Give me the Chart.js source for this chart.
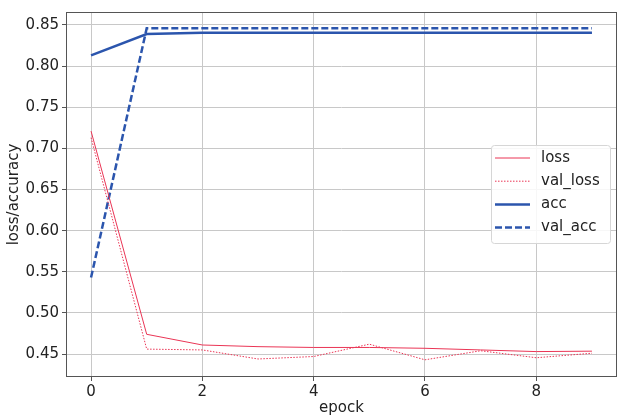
<!DOCTYPE html>
<html>
<head>
<meta charset="utf-8">
<script src="https://cdn.jsdelivr.net/npm/chart.js@4"></script>
<style>
  html, body { margin: 0; padding: 0; background: #fff; }
  #wrap { width: 619px; height: 417px; position: relative; }
</style>
</head>
<body>
<div id="wrap"><canvas id="historyChart"></canvas></div>
<script>
// training history
const epochs = [0, 1, 2, 3, 4, 5, 6, 7, 8, 9];
const loss = [0.721, 0.474, 0.461, 0.459, 0.458, 0.458, 0.457, 0.455, 0.453, 0.4535];
const valLoss = [0.713, 0.456, 0.455, 0.444, 0.447, 0.462, 0.443, 0.454, 0.4455, 0.451];
const acc = [0.813, 0.839, 0.8405, 0.8405, 0.8405, 0.8405, 0.8405, 0.8405, 0.8405, 0.8405];
const valAcc = [0.543, 0.846, 0.846, 0.846, 0.846, 0.846, 0.846, 0.846, 0.846, 0.846];
const xTicks = [0, 2, 4, 6, 8];
const yTicks = [0.45, 0.50, 0.55, 0.60, 0.65, 0.70, 0.75, 0.80, 0.85];

const red = '#ea3555';
const blue = '#2b55ad';
const font = { family: 'DejaVu Sans', size: 15 };

function pts(ys) {
    return epochs.map((x, i) => ({ x: x, y: ys[i] }));
}

// frame around the plot area + legend inside it (matplotlib style)
const framePlugin = {
    id: 'frame',
    afterDraw(chart) {
        const ctx = chart.ctx;
        const a = chart.chartArea;
        ctx.save();
        ctx.strokeStyle = '#555';
        ctx.lineWidth = 1;
        ctx.strokeRect(a.left + 0.5, a.top + 0.5, a.right - a.left - 1, a.bottom - a.top - 1);

        // legend box
        const w = 119, h = 98;
        const lx = a.right - 7 - w, ly = 145;
        ctx.fillStyle = 'rgba(255,255,255,0.85)';
        ctx.strokeStyle = '#d6d6d6';
        ctx.beginPath();
        ctx.roundRect(lx + 0.5, ly + 0.5, w, h, 3);
        ctx.fill();
        ctx.stroke();

        ctx.font = '15px "DejaVu Sans"';
        ctx.textBaseline = 'middle';
        chart.data.datasets.forEach((ds, i) => {
            const y = ly + 13 + i * 23.2;
            ctx.strokeStyle = ds.borderColor;
            ctx.lineWidth = ds.borderWidth;
            ctx.setLineDash(ds.borderDash || []);
            ctx.beginPath();
            ctx.moveTo(lx + 4, y);
            ctx.lineTo(lx + 39, y);
            ctx.stroke();
            ctx.setLineDash([]);
            ctx.fillStyle = '#222';
            ctx.fillText(ds.label, lx + 50, y);
        });
        ctx.restore();
    }
};

new Chart(document.getElementById('historyChart'), {
    type: 'line',
    data: {
        datasets: [
            { label: 'loss', data: pts(loss), borderColor: red, borderWidth: 1 },
            { label: 'val_loss', data: pts(valLoss), borderColor: red, borderWidth: 1, borderDash: [1.5, 1.5] },
            { label: 'acc', data: pts(acc), borderColor: blue, borderWidth: 2.5 },
            { label: 'val_acc', data: pts(valAcc), borderColor: blue, borderWidth: 2.5, borderDash: [7, 3] }
        ]
    },
    options: {
        responsive: true,
        maintainAspectRatio: false,
        animation: false,
        layout: { padding: { top: 11, right: 2, left: 0, bottom: 0 } },
        elements: { point: { radius: 0 }, line: { tension: 0, fill: false } },
        plugins: { legend: { display: false }, tooltip: { enabled: false } },
        scales: {
            x: {
                type: 'linear',
                min: -0.45,
                max: 9.45,
                afterBuildTicks: s => { s.ticks = xTicks.map(v => ({ value: v })); },
                afterFit: s => { s.height = 40; },
                ticks: { color: '#222', font: font, padding: 2, maxRotation: 0 },
                grid: { color: '#c8c8c8', tickColor: '#555', tickLength: 4 },
                border: { display: false },
                title: { display: true, text: 'epock', color: '#222', font: font, padding: { top: 0, bottom: 0 } }
            },
            y: {
                min: 0.4221,
                max: 0.8658,
                afterBuildTicks: s => { s.ticks = yTicks.map(v => ({ value: v })); },
                afterFit: s => { s.width = 66; },
                ticks: { color: '#222', font: font, padding: 3, callback: v => v.toFixed(2) },
                grid: { color: '#c8c8c8', tickColor: '#555', tickLength: 4 },
                border: { display: false },
                title: { display: true, text: 'loss/accuracy', color: '#222', font: font, padding: { top: 5, bottom: 0 } }
            }
        }
    },
    plugins: [framePlugin]
});
</script>
</body>
</html>
